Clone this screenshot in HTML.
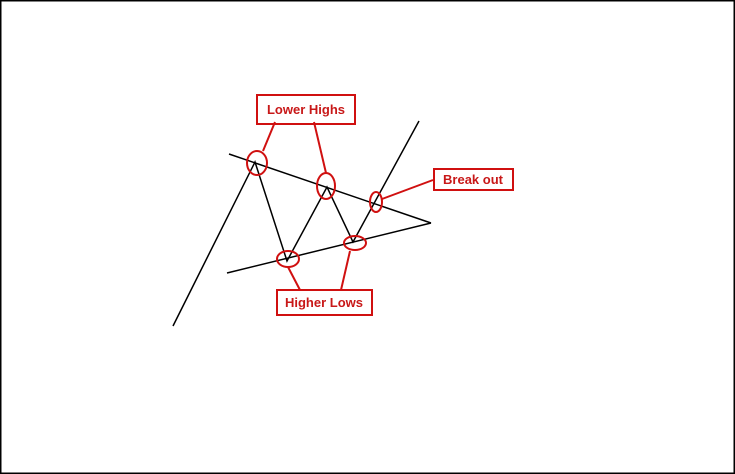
<!DOCTYPE html>
<html><head><style>body{margin:0}svg{display:block}</style></head><body>
<svg width="735" height="474" viewBox="0 0 735 474" xmlns="http://www.w3.org/2000/svg">
<rect x="0.5" y="0.5" width="734" height="473" fill="#fff" stroke="#000" stroke-width="2"/>
<g stroke="#000" stroke-width="1.5" fill="none">
<polyline points="173,326 255,162 287,261 327,187 353,242 419,121"/>
<line x1="229" y1="154" x2="431" y2="223"/>
<line x1="227" y1="273" x2="431" y2="223"/>
</g>
<g stroke="#d01010" stroke-width="2" fill="none">
<ellipse cx="257" cy="163" rx="10" ry="12"/>
<ellipse cx="326" cy="186" rx="9" ry="13"/>
<ellipse cx="376" cy="202" rx="6" ry="10"/>
<ellipse cx="288" cy="259" rx="11" ry="8"/>
<ellipse cx="355" cy="243" rx="11" ry="7"/>
<line x1="275" y1="122" x2="263" y2="151"/>
<line x1="314" y1="122" x2="326" y2="173"/>
<line x1="382" y1="199" x2="433" y2="180"/>
<line x1="288" y1="267" x2="300" y2="290"/>
<line x1="350" y1="251" x2="341" y2="290"/>
<rect x="257" y="95" width="98" height="29"/>
<rect x="434" y="169" width="79" height="21"/>
<rect x="277" y="290" width="95" height="25"/>
</g>
<g fill="#c81818" font-family="Liberation Sans, sans-serif" font-weight="bold" font-size="13">
<text x="306" y="114" text-anchor="middle">Lower Highs</text>
<text x="473" y="184" text-anchor="middle">Break out</text>
<text x="324" y="307" text-anchor="middle">Higher Lows</text>
</g>
</svg>
</body></html>
